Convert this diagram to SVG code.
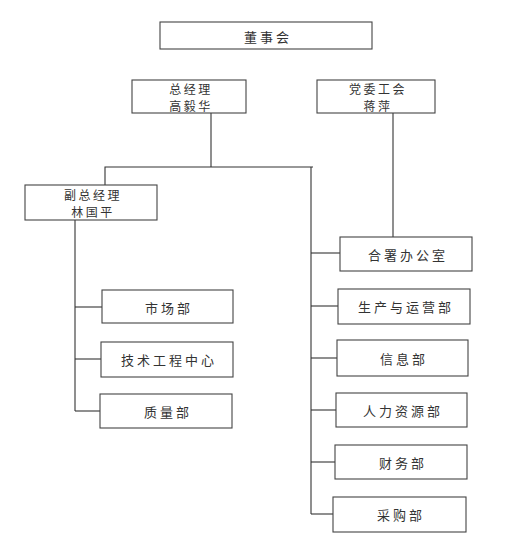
<svg xmlns="http://www.w3.org/2000/svg" width="512" height="555" viewBox="0 0 512 555">
<style>
rect{fill:#fff;stroke:#444;stroke-width:1.1}
text{font-family:"Noto Sans CJK SC","Noto Sans CJK JP",sans-serif;font-size:13px;fill:#333;text-anchor:middle;dominant-baseline:central;letter-spacing:3px}
text.t{font-size:12px;letter-spacing:2.5px}
.c line,.c polyline{stroke:#333;stroke-width:1.1;fill:none}
</style>
<rect x="0" y="0" width="512" height="555" style="fill:#fff;stroke:none"/>
<g class="c" id="connectors">
<line x1="211" y1="113" x2="211" y2="167"/>
<polyline points="105,185 105,167 313,167"/>
<line x1="393" y1="113" x2="393" y2="237"/>
<line x1="311" y1="167" x2="311" y2="514"/>
<line x1="75" y1="220" x2="75" y2="411"/>
<line x1="75" y1="307" x2="102" y2="307"/>
<line x1="75" y1="359" x2="101" y2="359"/>
<line x1="75" y1="411" x2="100" y2="411"/>
<line x1="311" y1="253" x2="340" y2="253"/>
<line x1="311" y1="306" x2="338" y2="306"/>
<line x1="311" y1="358" x2="337" y2="358"/>
<line x1="311" y1="410" x2="336" y2="410"/>
<line x1="311" y1="462" x2="335" y2="462"/>
<line x1="311" y1="514" x2="333" y2="514"/>
</g>
<g id="board"><rect x="160" y="22" width="212" height="27"/><text x="268" y="36">董事会</text></g>
<g id="gm"><rect x="132" y="80" width="114" height="33"/><text class="t" x="191" y="88">总经理</text><text class="t" x="191" y="105">高毅华</text></g>
<g id="party"><rect x="317" y="80" width="118" height="33"/><text class="t" x="378" y="88">党委工会</text><text class="t" x="378" y="105">蒋萍</text></g>
<g id="vgm"><rect x="25" y="185" width="132" height="35"/><text class="t" x="93" y="194">副总经理</text><text class="t" x="93" y="211">林国平</text></g>
<g id="market"><rect x="102" y="290" width="131" height="33"/><text x="169" y="307">市场部</text></g>
<g id="tech"><rect x="101" y="342" width="132" height="35"/><text x="169" y="359">技术工程中心</text></g>
<g id="quality"><rect x="100" y="394" width="132" height="34"/><text x="168" y="411">质量部</text></g>
<g id="office"><rect x="340" y="237" width="132" height="34"/><text x="408" y="254">合署办公室</text></g>
<g id="prod"><rect x="338" y="289" width="132" height="35"/><text x="406" y="306">生产与运营部</text></g>
<g id="info"><rect x="337" y="340" width="131" height="36"/><text x="404" y="358">信息部</text></g>
<g id="hr"><rect x="336" y="393" width="131" height="34"/><text x="403" y="410">人力资源部</text></g>
<g id="finance"><rect x="335" y="445" width="132" height="34"/><text x="403" y="462">财务部</text></g>
<g id="purchase"><rect x="333" y="497" width="133" height="35"/><text x="401" y="514">采购部</text></g>
</svg>
